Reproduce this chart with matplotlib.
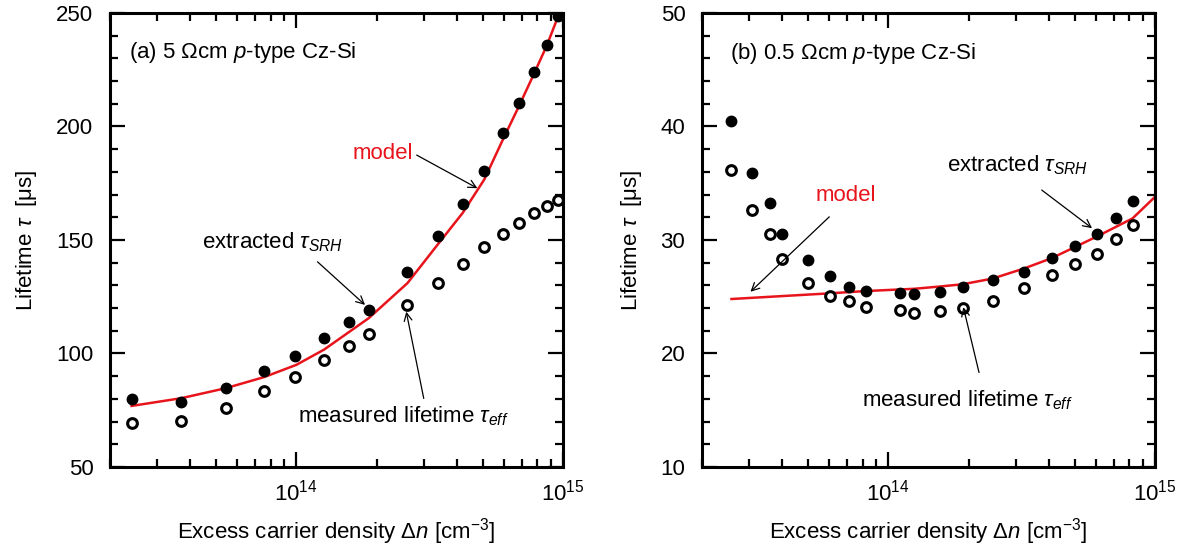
"""
Injection-dependent lifetime of p-type Cz-Si: measured, extracted SRH and model.
"""

import matplotlib
matplotlib.use('Agg')
import matplotlib.pyplot as plt
from matplotlib.ticker import LogLocator, MultipleLocator, NullFormatter

plt.rcParams['font.family'] = ['Liberation Sans', 'DejaVu Sans']
plt.rcParams['mathtext.fontset'] = 'custom'
plt.rcParams['mathtext.rm'] = 'Liberation Sans'
plt.rcParams['mathtext.it'] = 'Liberation Sans:italic'

# ---- (a) 5 Ohm cm ----
a_dn = [2.41e13, 3.70e13, 5.43e13, 7.57e13, 9.9e13, 1.27e14, 1.57e14, 1.87e14, 2.61e14,
        3.39e14, 4.21e14, 5.07e14, 5.96e14, 6.84e14, 7.77e14, 8.69e14, 9.59e14]
a_srh = [79.9, 78.8, 84.6, 92.2, 98.7, 106.8, 113.7, 119.3, 136.0,
         151.7, 166.0, 180.5, 197.0, 210.4, 224.0, 235.7, 248.8]
a_eff = [69.4, 70.3, 76.2, 83.4, 89.6, 97.1, 103.1, 108.6, 121.2,
         131.1, 139.5, 147.1, 152.6, 157.6, 161.8, 164.9, 167.7]
a_model_dn = [2.41e13, 3.70e13, 5.43e13, 7.57e13, 1.0e14, 1.27e14, 1.87e14, 2.61e14,
              3.39e14, 4.21e14, 5.07e14, 5.96e14, 6.84e14, 7.77e14, 8.69e14, 1.0e15]
a_model = [76.9, 80.3, 84.7, 89.6, 95.0, 101.7, 115.6, 131.0,
           148.0, 162.0, 176.7, 194.4, 209.0, 223.0, 235.6, 254.0]

# ---- (b) 0.5 Ohm cm ----
b_dn = [2.57e13, 3.08e13, 3.60e13, 4.00e13, 4.99e13, 6.04e13, 7.10e13, 8.21e13, 1.11e14,
        1.25e14, 1.56e14, 1.90e14, 2.46e14, 3.24e14, 4.10e14, 5.03e14, 6.05e14, 7.17e14, 8.24e14]
b_srh = [40.5, 35.9, 33.3, 30.5, 28.2, 26.8, 25.9, 25.5, 25.3,
         25.2, 25.4, 25.9, 26.5, 27.2, 28.4, 29.5, 30.5, 31.9, 33.4]
b_eff = [36.2, 32.6, 30.5, 28.3, 26.2, 25.1, 24.6, 24.1, 23.8,
         23.6, 23.7, 24.0, 24.6, 25.8, 26.9, 27.9, 28.8, 30.1, 31.3]
b_model_dn = [2.58e13, 6.04e13, 8.21e13, 1.25e14, 1.56e14, 1.90e14, 2.46e14, 3.24e14,
              4.10e14, 5.03e14, 6.05e14, 8.24e14, 1.0e15]
b_model = [24.8, 25.3, 25.5, 25.7, 25.9, 26.1, 26.6, 27.5,
           28.4, 29.4, 30.3, 31.9, 33.8]

FS = 16


def style_axis(ax, ylim, ymajor, yminor):
    ax.set_xscale('log')
    ax.set_xlim(2e13, 1e15)
    ax.set_ylim(*ylim)
    ax.xaxis.set_major_locator(LogLocator(base=10, numticks=10))
    ax.xaxis.set_minor_locator(LogLocator(base=10, subs=range(2, 10), numticks=20))
    ax.xaxis.set_minor_formatter(NullFormatter())
    ax.yaxis.set_major_locator(MultipleLocator(ymajor))
    ax.yaxis.set_minor_locator(MultipleLocator(yminor))
    ax.tick_params(which='both', direction='in', top=True, right=True,
                   labelsize=FS, width=1.6)
    ax.tick_params(which='major', length=11)
    ax.tick_params(which='minor', length=6)
    ax.tick_params(axis='y', pad=12)
    ax.tick_params(axis='x', pad=9)
    for sp in ax.spines.values():
        sp.set_linewidth(2.2)
    ax.set_xlabel(r'Excess carrier density $\Delta n$ [cm$^{-3}$]', fontsize=FS, labelpad=8)
    ax.set_ylabel(r'Lifetime $\tau$  [μs]', fontsize=FS, labelpad=12)


def draw_points(ax, dn, srh, eff, mdn, mod):
    ax.plot(mdn, mod, color='#e8141c', lw=1.8, zorder=2)
    ax.plot(dn, srh, 'o', color='black', ms=7.5, zorder=3)
    ax.plot(dn, eff, 'o', mfc='white', mec='black', mew=2.2, ms=7, zorder=3)


def arrow(ax, start, end):
    ax.annotate('', xy=end, xytext=start, xycoords='axes fraction',
                textcoords='axes fraction',
                arrowprops=dict(arrowstyle='->', color='black', lw=0.9,
                                shrinkA=0, shrinkB=0, mutation_scale=14))


fig = plt.figure(figsize=(11.88, 5.52), dpi=100)
ax1 = fig.add_axes([0.0926, 0.154, 0.3813, 0.8225])
ax2 = fig.add_axes([0.5909, 0.154, 0.3813, 0.8225])

# --- panel (a) ---
style_axis(ax1, (50, 250), 50, 10)
draw_points(ax1, a_dn, a_srh, a_eff, a_model_dn, a_model)
ax1.text(0.042, 0.912, r'(a) 5 Ωcm $p$-type Cz-Si', transform=ax1.transAxes,
         fontsize=FS, va='center', ha='left')
ax1.text(0.669, 0.69, 'model', color='#e8141c', transform=ax1.transAxes,
         fontsize=FS, va='center', ha='right')
arrow(ax1, (0.677, 0.687), (0.811, 0.614))
ax1.text(0.204, 0.496, r'extracted $\tau_{SRH}$', transform=ax1.transAxes,
         fontsize=FS, va='center', ha='left')
arrow(ax1, (0.458, 0.452), (0.563, 0.357))
ax1.text(0.4155, 0.111, r'measured lifetime $\tau_{eff}$', transform=ax1.transAxes,
         fontsize=FS, va='center', ha='left')
arrow(ax1, (0.6926, 0.151), (0.654, 0.342))

# --- panel (b) ---
style_axis(ax2, (10, 50), 10, 2)
draw_points(ax2, b_dn, b_srh, b_eff, b_model_dn, b_model)
ax2.text(0.062, 0.911, r'(b) 0.5 Ωcm $p$-type Cz-Si', transform=ax2.transAxes,
         fontsize=FS, va='center', ha='left')
ax2.text(0.25, 0.599, 'model', color='#e8141c', transform=ax2.transAxes,
         fontsize=FS, va='center', ha='left')
arrow(ax2, (0.281, 0.551), (0.107, 0.386))
ax2.text(0.541, 0.665, r'extracted $\tau_{SRH}$', transform=ax2.transAxes,
         fontsize=FS, va='center', ha='left')
arrow(ax2, (0.750, 0.610), (0.861, 0.526))
ax2.text(0.353, 0.1476, r'measured lifetime $\tau_{eff}$', transform=ax2.transAxes,
         fontsize=FS, va='center', ha='left')
arrow(ax2, (0.6116, 0.208), (0.577, 0.352))

fig.savefig('out.png', dpi=100)
plt.close(fig)
print("Saved: out.png")
